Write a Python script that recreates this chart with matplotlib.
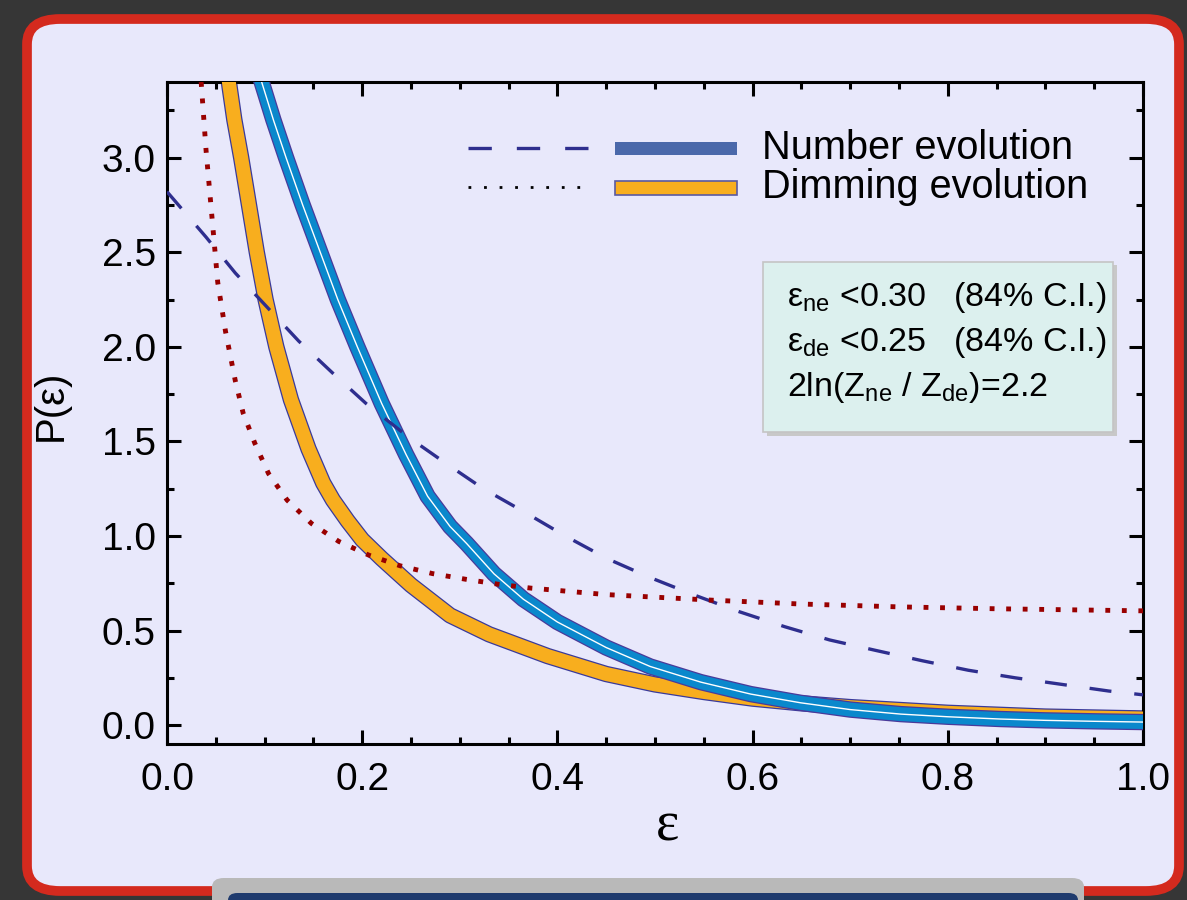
import matplotlib
matplotlib.use('Agg')
import matplotlib.pyplot as plt
from matplotlib.patches import FancyBboxPatch, Rectangle
from matplotlib.lines import Line2D

plt.rcParams['font.family'] = ['Liberation Sans', 'DejaVu Sans']
plt.rcParams['mathtext.fontset'] = 'custom'
plt.rcParams['mathtext.rm'] = 'Liberation Sans'
plt.rcParams['mathtext.it'] = 'Liberation Sans:italic'

# Data
# Number evolution posterior (blue band, centre line)
eps_num = [0.094, 0.109, 0.122, 0.139, 0.157, 0.175, 0.195, 0.220, 0.245, 0.267, 0.290, 0.307,
           0.335, 0.365, 0.40, 0.45, 0.495, 0.547, 0.598, 0.649, 0.70, 0.752, 0.80, 0.854,
           0.90, 0.95, 1.0]
p_num = [3.45, 3.20, 3.00, 2.75, 2.50, 2.25, 2.00, 1.70, 1.43, 1.21, 1.05, 0.96,
         0.80, 0.666, 0.545, 0.41, 0.31, 0.227, 0.164, 0.118, 0.082, 0.058, 0.044, 0.032,
         0.025, 0.02, 0.016]

# Dimming evolution posterior (orange band, centre line)
eps_dim = [0.062, 0.069, 0.076, 0.084, 0.092, 0.101, 0.112, 0.127, 0.145, 0.160, 0.17, 0.185,
           0.20, 0.22, 0.25, 0.29, 0.33, 0.39, 0.45, 0.50, 0.55, 0.60, 0.65, 0.70,
           0.80, 0.90, 1.0]
p_dim = [3.45, 3.20, 3.00, 2.75, 2.50, 2.25, 2.00, 1.72, 1.46, 1.28, 1.19, 1.08,
         0.98, 0.88, 0.74, 0.58, 0.48, 0.365, 0.27, 0.215, 0.175, 0.14, 0.115, 0.095,
         0.065, 0.045, 0.035]

# Number evolution prior (dashed)
eps_num_prior = [0.0, 0.04, 0.07, 0.135, 0.17, 0.204, 0.248, 0.284, 0.324, 0.365, 0.408, 0.451,
                 0.495, 0.539, 0.586, 0.633, 0.679, 0.726, 0.774, 0.821, 0.869, 0.917, 0.965, 1.0]
p_num_prior = [2.82, 2.58, 2.39, 2.03, 1.86, 1.70, 1.52, 1.39, 1.25, 1.13, 1.00, 0.88,
               0.78, 0.69, 0.60, 0.52, 0.45, 0.395, 0.34, 0.29, 0.25, 0.215, 0.18, 0.16]

# Dimming evolution prior (dotted)
eps_dim_prior = [0.035, 0.040, 0.046, 0.052, 0.060, 0.070, 0.078, 0.090, 0.104, 0.123, 0.148, 0.176,
                 0.207, 0.239, 0.272, 0.306, 0.339, 0.373, 0.45, 0.56, 0.65, 0.75, 0.85, 1.0]
p_dim_prior = [3.40, 3.04, 2.69, 2.34, 2.08, 1.82, 1.65, 1.49, 1.33, 1.19, 1.066, 0.971,
               0.898, 0.842, 0.801, 0.771, 0.745, 0.724, 0.69, 0.66, 0.64, 0.625, 0.615, 0.604]

legend_labels = ['Number evolution', 'Dimming evolution']
box_lines = [r'$\mathrm{ε_{ne}}$ <0.30   (84% C.I.)',
             r'$\mathrm{ε_{de}}$ <0.25   (84% C.I.)',
             r'2ln(Z$_\mathrm{ne}$ / Z$_\mathrm{de}$)=2.2']

panel = '#e8e8fb'
blue = '#0a88cc'
orange = '#f8ae1e'
navy = '#2e2e8e'
darkred = '#990000'

fig = plt.figure(figsize=(11.87, 9), dpi=100, facecolor='#363636')

# slide panel with red border
fig.patches.append(FancyBboxPatch((27 / 1187, 9 / 900), 1152 / 1187, 872 / 900,
                                  boxstyle='round,pad=0,rounding_size=0.028',
                                  transform=fig.transFigure, facecolor=panel,
                                  edgecolor='#d42a1e', linewidth=7, zorder=-3))
# grey bar at the bottom of the slide
fig.patches.append(FancyBboxPatch((212 / 1187, -20 / 900), 872 / 1187, 42 / 900,
                                  boxstyle='round,pad=0,rounding_size=0.01',
                                  transform=fig.transFigure, facecolor='#b9b9b9',
                                  edgecolor='none', zorder=-2))
fig.patches.append(FancyBboxPatch((228 / 1187, -20 / 900), 850 / 1187, 27 / 900,
                                  boxstyle='round,pad=0,rounding_size=0.008',
                                  transform=fig.transFigure, facecolor='#1f3b6e',
                                  edgecolor='none', zorder=-1))

ax = fig.add_axes([167 / 1187, 156 / 900, 976 / 1187, 662 / 900])
ax.set_facecolor('none')

# posterior bands: dark edge, coloured fill
ax.plot(eps_dim, p_dim, color='#3a3a9a', lw=11.8, solid_joinstyle='round', zorder=2)
ax.plot(eps_dim, p_dim, color=orange, lw=10.0, solid_joinstyle='round', zorder=3)
ax.plot(eps_num, p_num, color='#4a3a9a', lw=11.8, solid_joinstyle='round', zorder=4)
ax.plot(eps_num, p_num, color=blue, lw=10.0, solid_joinstyle='round', zorder=5)
ax.plot(eps_num, p_num, color='white', lw=1.0, zorder=6)

# priors
ax.plot(eps_num_prior, p_num_prior, color=navy, lw=2.4, dashes=(6.6, 6.9), zorder=7)
ax.plot(eps_dim_prior, p_dim_prior, color=darkred, lw=3.5, dashes=(1, 2.4), zorder=7)

ax.set_xlim(0, 1)
ax.set_ylim(-0.1, 3.4)
ax.set_xticks([0.0, 0.2, 0.4, 0.6, 0.8, 1.0])
ax.set_xticks([i * 0.05 for i in range(21)], minor=True)
ax.set_yticks([0.0, 0.5, 1.0, 1.5, 2.0, 2.5, 3.0])
ax.set_yticks([i * 0.25 for i in range(14)], minor=True)
ax.set_xticklabels(['0.0', '0.2', '0.4', '0.6', '0.8', '1.0'])
ax.set_yticklabels(['0.0', '0.5', '1.0', '1.5', '2.0', '2.5', '3.0'])
ax.tick_params(which='both', direction='in', top=True, right=True, width=2.2, labelsize=28)
ax.tick_params(which='major', length=10)
ax.tick_params(which='minor', length=5)
ax.tick_params(axis='x', pad=13)
ax.tick_params(axis='y', pad=8)
for s in ax.spines.values():
    s.set_linewidth(2.2)

ax.set_ylabel('P(ε)', fontsize=29)
ax.yaxis.set_label_coords(-0.1, 0.512)
ax.set_xlabel('ε', fontsize=40, family='Liberation Serif')
ax.xaxis.set_label_coords(0.513, -0.085)

# legend drawn by hand
ax.add_line(Line2D([0.308, 0.431], [0.900, 0.900], transform=ax.transAxes, color=navy,
                   lw=2.4, dashes=(7, 7.5)))
ax.add_line(Line2D([0.308, 0.431], [0.841, 0.841], transform=ax.transAxes, color='black',
                   lw=2.0, dashes=(1, 4.6)))
ax.add_patch(Rectangle((0.459, 0.890), 0.125, 0.020, transform=ax.transAxes,
                       facecolor='#4a68aa', edgecolor='none'))
ax.add_patch(Rectangle((0.459, 0.830), 0.125, 0.021, transform=ax.transAxes,
                       facecolor=orange, edgecolor='#5a5aa0', lw=1.2))
ax.text(0.610, 0.900, legend_labels[0], transform=ax.transAxes, fontsize=28.6,
        ha='left', va='center')
ax.text(0.610, 0.841, legend_labels[1], transform=ax.transAxes, fontsize=28.6,
        ha='left', va='center')

# info box
ax.add_patch(Rectangle((0.615, 0.466), 0.358, 0.257, transform=ax.transAxes,
                       facecolor='#c8c8c8', edgecolor='none', zorder=8))
ax.add_patch(Rectangle((0.611, 0.471), 0.358, 0.257, transform=ax.transAxes,
                       facecolor='#dcf0ee', edgecolor='#c4c4c4', lw=1.2, zorder=9))
for i, line in enumerate(box_lines):
    ax.text(0.635, 0.674 - i * 0.068, line, transform=ax.transAxes, fontsize=24.5,
            ha='left', va='center', zorder=10)

plt.savefig('out.png', dpi=100, facecolor=fig.get_facecolor())
